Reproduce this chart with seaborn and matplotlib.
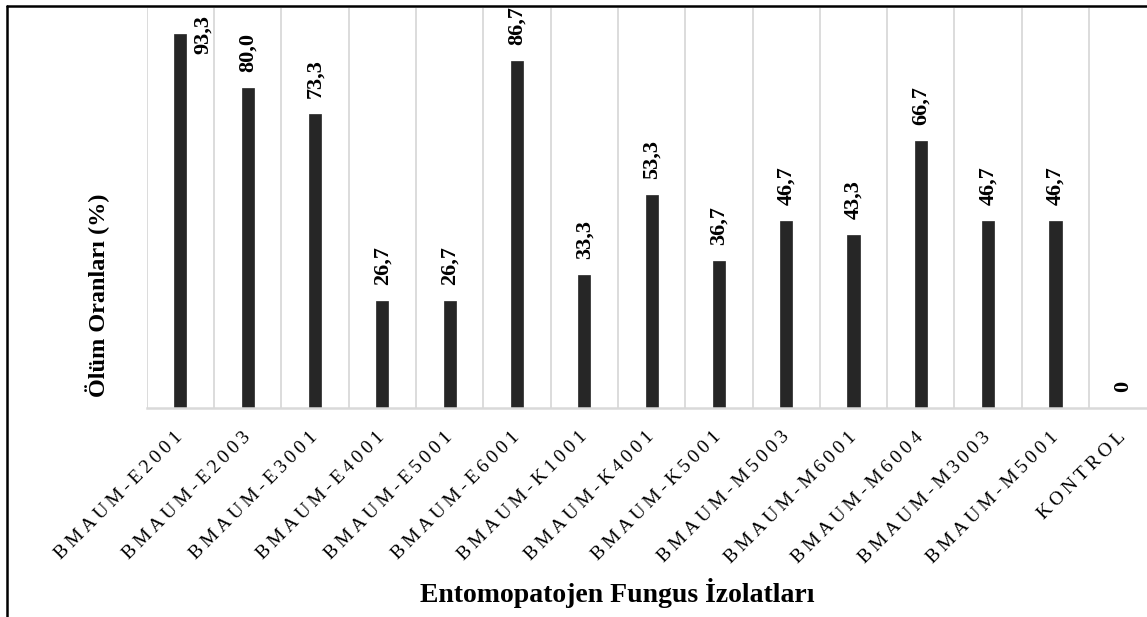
import matplotlib
matplotlib.use("Agg")
import matplotlib.pyplot as plt
import seaborn as sns
import pandas as pd
from matplotlib.lines import Line2D

categories = ["BMAUM-E2001", "BMAUM-E2003", "BMAUM-E3001", "BMAUM-E4001", "BMAUM-E5001",
              "BMAUM-E6001", "BMAUM-K1001", "BMAUM-K4001", "BMAUM-K5001", "BMAUM-M5003",
              "BMAUM-M6001", "BMAUM-M6004", "BMAUM-M3003", "BMAUM-M5001", "KONTROL"]
values = [93.3, 80.0, 73.3, 26.7, 26.7, 86.7, 33.3, 53.3, 36.7, 46.7, 43.3, 66.7, 46.7, 46.7, 0]
value_labels = ["93,3", "80,0", "73,3", "26,7", "26,7", "86,7", "33,3", "53,3", "36,7", "46,7",
                "43,3", "66,7", "46,7", "46,7", "0"]
x_title = "Entomopatojen Fungus İzolatları"
y_title = "Ölüm Oranları (%)"

sns.set_theme(style="white")
serif = ["Liberation Serif", "DejaVu Serif", "DejaVu Sans"]
plt.rcParams["font.family"] = serif
plt.rcParams["text.color"] = "black"
plt.rcParams["xtick.color"] = "black"
plt.rcParams["xtick.labelcolor"] = "black"

W, H = 1147, 617
fig = plt.figure(figsize=(W / 100, H / 100), dpi=100)
left, right, top, bottom = 146.7, 1147, 7.5, 408
ax = fig.add_axes([left / W, 1 - bottom / H, (right - left) / W, (bottom - top) / H])

df = pd.DataFrame({"cat": categories, "val": values})
sns.barplot(data=df, x="cat", y="val", color="#262626", saturation=1, width=0.18, ax=ax)
for p in ax.patches:
    p.set_edgecolor("#262626")
    p.set_linewidth(0.5)

ax.set_ylim(0, 100)
ax.set_xlim(-0.5, 14.36)
ax.set_yticks([])
ax.set_xticks(range(len(categories)))
for k in range(len(categories)):
    ax.axvline(k - 0.5, color="#d9d9d9", lw=1.3, zorder=0)
for s in ["top", "right", "left"]:
    ax.spines[s].set_visible(False)
ax.spines["bottom"].set_color("#d9d9d9")
ax.spines["bottom"].set_linewidth(1.8)
ax.set_xlabel("")
ax.set_ylabel("")

spaced = ["\u2009".join(list(c)) for c in categories]
ax.set_xticklabels(spaced, rotation=45, ha="right", va="center", rotation_mode="anchor",
                   fontsize=14, family=serif, color="black")
ax.tick_params(axis="x", length=0, pad=19)

for i, (v, lab) in enumerate(zip(values, value_labels)):
    if v > 90:
        ax.annotate(lab, (i, v), xytext=(16.5, 0), textcoords="offset points",
                    rotation=90, ha="center", va="center", fontsize=16,
                    fontweight="bold", family=serif, color="black")
    else:
        ax.annotate(lab, (i, v), xytext=(0, 11.5), textcoords="offset points",
                    rotation=90, ha="center", va="bottom", fontsize=16,
                    fontweight="bold", family=serif, color="black")

fig.text(98 / W, 1 - 295 / H, y_title, rotation=90, ha="center", va="center",
         fontsize=17.5, fontweight="bold", family=serif, color="black")
fig.text(617 / W, 1 - 593 / H, x_title, ha="center", va="center",
         fontsize=20, fontweight="bold", family=serif, color="black")

fig.add_artist(Line2D([7.5 / W, 7.5 / W], [0, 1 - 6 / H], color="black", lw=1.8,
                      transform=fig.transFigure))
fig.add_artist(Line2D([7.5 / W, 1], [1 - 6 / H, 1 - 6 / H], color="black", lw=1.8,
                      transform=fig.transFigure))

fig.savefig("out.png", dpi=100)
